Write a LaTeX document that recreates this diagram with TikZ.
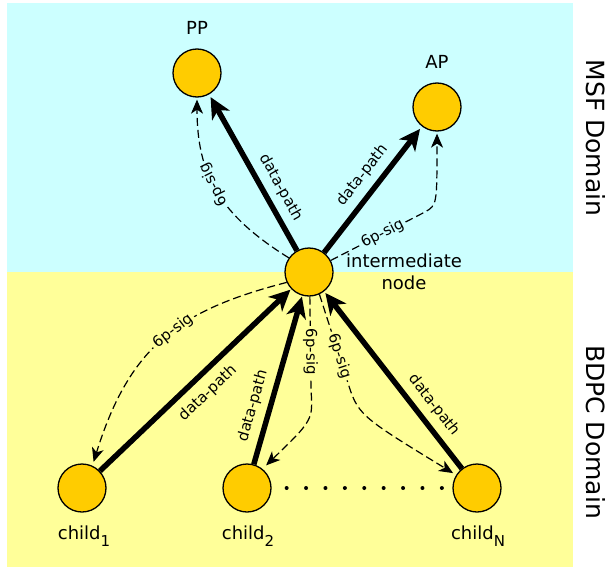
\documentclass[tikz,border=0pt]{standalone}
\usepackage{fontspec}
\setmainfont{DejaVu Sans}
\usetikzlibrary{arrows.meta}
\definecolor{bgcyan}{HTML}{CCFFFF}
\definecolor{bgyellow}{HTML}{FFFF99}
\definecolor{nodefill}{HTML}{FFCC00}
\newcommand\mysub[1]{\raisebox{-0.4em}{\fontsize{15}{15}\selectfont #1}}
\begin{document}
\begin{tikzpicture}[x=1pt,y=-1pt,
  dom/.style={circle, draw=black, line width=1.3pt, fill=nodefill, minimum size=48pt, inner sep=0pt},
  lbl/.style={font=\fontsize{18}{22}\selectfont, inner sep=0pt},
  domlbl/.style={font=\fontsize{25}{25}\selectfont, rotate=-90, inner sep=0pt},
  datapath/.style={line width=5.5pt, -{Stealth[length=21pt,width=20pt,inset=6pt]}},
  sig/.style={line width=1.2pt, dash pattern=on 8pt off 4pt, -{Stealth[length=14pt,width=12pt,inset=4pt]}},
  elbl/.style={font=\fontsize{15}{15}\selectfont, inner sep=1pt, sloped},
  sigl/.style={font=\fontsize{15}{15}\selectfont, inner sep=2.5pt, sloped},
  dots/.style={line width=4pt, line cap=round, dash pattern=on 0pt off 19.4pt}
]
\useasboundingbox (0,0) rectangle (609,567);
\fill[bgcyan] (7,3) rectangle (573,272);
\fill[bgyellow] (7,272) rectangle (573,567);

% nodes
\node[dom] (pp) at (197,73) {};
\node[dom] (ap) at (437,107) {};
\node[dom] (im) at (309,272) {};
\node[dom] (c1) at (82,488) {};
\node[dom] (c2) at (247,488) {};
\node[dom] (cn) at (477,488) {};

% labels
\node[lbl, anchor=base] (pplbl) at (197,35) {PP};
\node[lbl, anchor=base] (aplbl) at (437,69) {AP};
\node[lbl, align=center] (imlbl) at (404,272) {intermediate\\node};
\node[lbl, anchor=base] (c1lbl) at (84,539) {child\mysub{1}};
\node[lbl, anchor=base] (c2lbl) at (248,539) {child\mysub{2}};
\node[lbl, anchor=base] (cnlbl) at (478,539) {child\mysub{N}};
\node[domlbl] (msf) at (596,138) {MSF Domain};
\node[domlbl] (bdpc) at (596,432) {BDPC Domain};

% data paths
\draw[datapath, shorten >=3pt] (im) -- node[elbl, above=6pt, pos=0.35] {data-path} (pp);
\draw[datapath, shorten >=3pt] (im) -- node[elbl, above=6pt, pos=0.53] {data-path} (ap);
\draw[datapath, shorten >=1pt] (c1) -- node[elbl, below=7pt, pos=0.5] {data-path} (im);
\draw[datapath, shorten >=1pt] (c2) -- node[elbl, above=6pt, pos=0.32] {data-path} (im);
\draw[datapath, shorten >=2pt] (cn) -- node[elbl, above=6pt, pos=0.30] {data-path} (im);

% signalling
\draw[sig, shorten >=2pt] (im.145) .. controls (220,215) and (197,175) ..
  node[sigl, fill=bgcyan, pos=0.54, allow upside down] {6p-sig} (pp.south);
\draw[sig, shorten >=2pt] (im.28) -- node[sigl, fill=bgcyan, pos=0.55] {6p-sig} (425,212)
  .. controls (437,205) .. (ap.south);
\draw[sig, shorten >=4pt] (im.205) .. controls (180,310) and (130,345) ..
  node[sigl, fill=bgyellow, pos=0.45] {6p-sig} (c1.65);
\draw[sig, shorten >=5pt] (im.272) -- node[sigl, fill=bgyellow, pos=0.59] {6p-sig} (311,390)
  .. controls (313,420) .. (c2.51);
\draw[sig, shorten >=3.5pt] (im.295) -- node[sigl, fill=bgyellow, pos=0.72] {6p-sig} (347,380)
  .. controls (358,415) .. (cn.148);

% dotted line
\draw[dots, shorten <=15pt, shorten >=10pt] (c2) -- (cn);
\end{tikzpicture}
\end{document}
